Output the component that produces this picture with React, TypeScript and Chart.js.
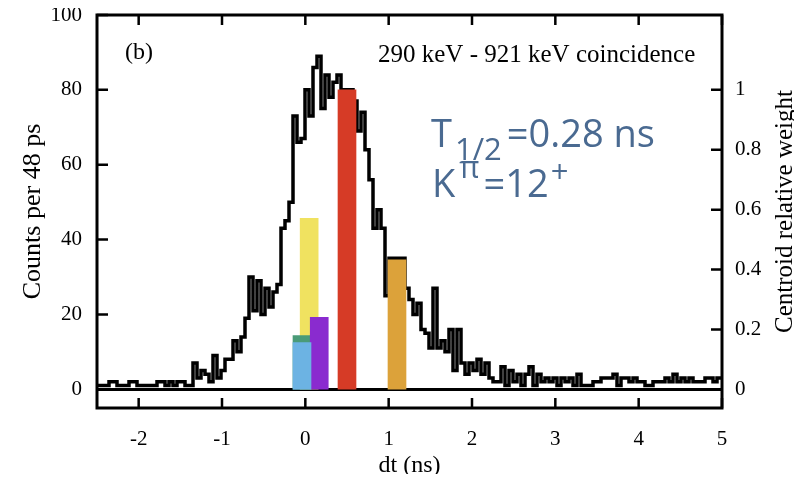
import React, { useEffect, useRef } from "react";
import { Chart, registerables } from "chart.js";

Chart.register(...registerables);

// Histogram: counts per 48 ps bin, bins starting at dt = -2.5 ns
const binStart = -2.5;
const binWidth = 0.048;
const counts = [
  1, 1, 1, 2, 2, 1, 1, 1, 2, 2, 1, 1, 1, 1, 1, 2, 2, 1, 2, 1, 2, 2, 1, 1,
  7, 3, 5, 4, 2, 9, 3, 5, 8, 8, 13, 10, 14, 19, 30, 21, 29, 20, 27, 22, 26, 28, 43, 45, 50,
  73, 66, 67, 80, 73, 86, 89, 75, 84, 78, 82, 84, 80, 80, 80,
  77, 69, 74, 64, 56, 43, 48, 43, 25, 35, 35, 35, 35,
  27, 24, 20, 23, 16, 15, 11, 27, 11, 13, 10, 16, 5, 16, 7, 4, 7, 5, 8, 4, 7, 3, 2, 2,
  6, 1, 5, 2, 4, 1, 4, 6, 1, 4, 2, 3, 2, 3, 1, 3, 2, 3, 1, 4, 1, 1, 1, 2, 2, 3, 3, 3, 4, 1,
  3, 3, 2, 3, 2, 2, 1, 1, 2, 2, 2, 3, 2, 4, 2, 3, 2, 3, 2, 2, 2, 3, 3, 2, 3, 3,
];

// Centroid bars (right axis: relative weight)
const centroidNames = ["blue", "green", "yellow", "purple", "red", "orange"];
const centroidDt = [-0.04, -0.04, 0.046, 0.167, 0.5, 1.1];
const centroidWeight = [0.156, 0.179, 0.571, 0.24, 1.0, 0.432];
const centroidColors = ["#6cb3e3", "#4a9b78", "#f0e260", "#8a2bcf", "#d63b26", "#dca23a"];
const centroidOrder = [1, 2, 3, 1, 1, 1];

// Tick labels
const xTicks = [-2, -1, 0, 1, 2, 3, 4, 5];
const yTicks = [0, 20, 40, 60, 80, 100];
const y2Ticks = [0, 0.2, 0.4, 0.6, 0.8, 1];

const SERIF = "'Liberation Serif', 'Times New Roman', serif";
const TEXT_BLUE = "#4a6a91";

const decorPlugin = {
  id: "decor",
  afterDraw(chart: any) {
    const { ctx, chartArea: a, scales } = chart;
    ctx.save();
    ctx.strokeStyle = "#000";
    ctx.lineWidth = 2.5;
    ctx.beginPath();
    for (const v of xTicks) {
      const px = scales.x.getPixelForValue(v);
      ctx.moveTo(px, a.bottom);
      ctx.lineTo(px, a.bottom - 10);
      ctx.moveTo(px, a.top);
      ctx.lineTo(px, a.top + 10);
    }
    for (const v of yTicks) {
      const py = scales.y.getPixelForValue(v);
      ctx.moveTo(a.left, py);
      ctx.lineTo(a.left + 11, py);
    }
    for (const v of y2Ticks) {
      const py = scales.y2.getPixelForValue(v);
      ctx.moveTo(a.right, py);
      ctx.lineTo(a.right - 11, py);
    }
    ctx.stroke();
    ctx.lineWidth = 3;
    ctx.strokeRect(a.left, a.top, a.right - a.left, a.bottom - a.top);

    // right axis title (reads bottom to top)
    ctx.fillStyle = "#000";
    ctx.font = `25px ${SERIF}`;
    ctx.textAlign = "center";
    ctx.textBaseline = "middle";
    ctx.save();
    ctx.translate(777, (a.top + a.bottom) / 2);
    ctx.rotate(-Math.PI / 2);
    ctx.fillText("Centroid relative weight", 0, 0);
    ctx.restore();

    // panel annotations
    ctx.textAlign = "left";
    ctx.textBaseline = "alphabetic";
    ctx.font = `24px ${SERIF}`;
    ctx.fillText("(b)", 117, 51);
    ctx.font = `25px ${SERIF}`;
    ctx.fillText("290 keV - 921 keV coincidence", 370, 54);

    // T1/2 and K^pi
    ctx.fillStyle = TEXT_BLUE;
    const big = "38px 'Open Sans', sans-serif";
    const small = "31px 'Open Sans', sans-serif";
    let x = 423;
    let base = 139;
    ctx.font = big;
    ctx.fillText("T", x, base);
    x += ctx.measureText("T").width + 3;
    ctx.font = small;
    ctx.fillText("1/2", x, base + 13);
    x += ctx.measureText("1/2").width + 5;
    ctx.font = big;
    ctx.fillText("=0.28 ns", x, base);

    x = 424;
    base = 189;
    ctx.fillText("K", x, base);
    x += ctx.measureText("K").width + 4;
    ctx.font = small;
    ctx.fillText("\u03c0", x, base - 19);
    x += ctx.measureText("\u03c0").width + 4;
    ctx.font = big;
    ctx.fillText("=12", x, base);
    x += ctx.measureText("=12").width + 2;
    ctx.font = small;
    ctx.fillText("+", x, base - 14);
    ctx.restore();
  },
};

export default function App() {
  const canvasRef = useRef<HTMLCanvasElement | null>(null);

  useEffect(() => {
    if (!canvasRef.current) return;
    const histData = counts.map((c, i) => ({ x: binStart + i * binWidth, y: c }));
    histData.push({ x: binStart + counts.length * binWidth, y: counts[counts.length - 1] });

    const barSets = centroidNames.map((name, i) => ({
      type: "bar" as const,
      label: name,
      data: [{ x: centroidDt[i], y: centroidWeight[i] }],
      backgroundColor: centroidColors[i],
      borderWidth: 0,
      barThickness: 18,
      grouped: false,
      yAxisID: "y2",
      xAxisID: "x",
      order: centroidOrder[i],
    }));

    const noPad = (s: any) => {
      s.paddingTop = 0;
      s.paddingBottom = 0;
      s.paddingLeft = 0;
      s.paddingRight = 0;
    };

    const chart = new Chart(canvasRef.current, {
      type: "line",
      data: {
        datasets: [
          ...barSets,
          {
            type: "line" as const,
            label: "counts",
            data: histData,
            stepped: true,
            borderColor: "#000",
            borderWidth: 3.5,
            pointRadius: 0,
            fill: false,
            yAxisID: "y",
            xAxisID: "x",
            order: 10,
          },
        ] as any,
      },
      options: {
        animation: false,
        responsive: false,
        maintainAspectRatio: false,
        layout: { padding: { top: 7, left: 0, right: 0, bottom: 0 } },
        plugins: { legend: { display: false }, tooltip: { enabled: false } },
        scales: {
          x: {
            type: "linear",
            position: "bottom",
            min: -2.5,
            max: 5,
            offset: false,
            afterBuildTicks: (s: any) => {
              s.ticks = xTicks.map((v) => ({ value: v }));
            },
            afterFit: (s: any) => {
              s.height = 74;
              noPad(s);
            },
            grid: { display: false, drawTicks: false, offset: false },
            border: { display: false },
            ticks: {
              padding: 19,
              color: "#000",
              font: { family: SERIF, size: 21 },
              maxRotation: 0,
              callback: (v: any) => String(v),
            },
            title: {
              display: true,
              text: "dt (ns)",
              color: "#000",
              font: { family: SERIF, size: 24, lineHeight: 1 },
              padding: { top: 0, bottom: 4 },
            },
          },
          y: {
            type: "linear",
            position: "left",
            min: -5,
            max: 100,
            z: 1,
            afterBuildTicks: (s: any) => {
              s.ticks = yTicks.map((v) => ({ value: v }));
            },
            afterFit: (s: any) => {
              s.width = 89;
              noPad(s);
            },
            grid: {
              drawTicks: false,
              color: (c: any) => (c.tick && c.tick.value === 0 ? "#000" : "rgba(0,0,0,0)"),
              lineWidth: 3,
            },
            border: { display: false },
            ticks: {
              padding: 15,
              color: "#000",
              font: { family: SERIF, size: 21 },
              callback: (v: any) => String(v),
            },
            title: {
              display: true,
              text: "Counts per 48 ps",
              color: "#000",
              font: { family: SERIF, size: 26, lineHeight: 1 },
              padding: { top: 12, bottom: 0 },
            },
          },
          y2: {
            type: "linear",
            position: "right",
            min: -0.0625,
            max: 1.25,
            afterBuildTicks: (s: any) => {
              s.ticks = y2Ticks.map((v) => ({ value: v }));
            },
            afterFit: (s: any) => {
              s.width = 72;
              noPad(s);
            },
            grid: { display: false, drawTicks: false },
            border: { display: false },
            ticks: {
              padding: 13,
              color: "#000",
              font: { family: SERIF, size: 21 },
              callback: (v: any) => String(v),
            },
          },
        },
      },
      plugins: [decorPlugin],
    });
    return () => chart.destroy();
  }, []);

  return (
    <div style={{ width: 786, height: 474, marginBottom: -8 }}>
      <canvas ref={canvasRef} width={786} height={474} style={{ width: 786, height: 474, display: "block" }} />
    </div>
  );
}
